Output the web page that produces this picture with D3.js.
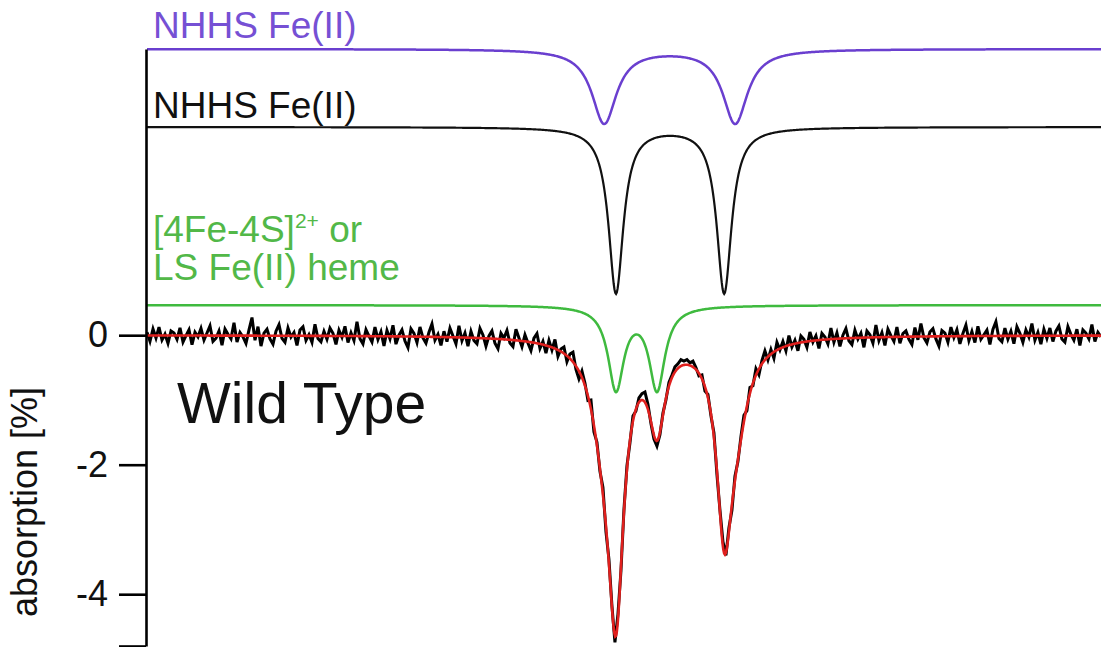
<!DOCTYPE html>
<html>
<head>
<meta charset="utf-8">
<script src="https://cdn.jsdelivr.net/npm/d3@7"></script>
<style>
  body { margin: 0; background: #fff; }
  svg text { font-family: Arial, "Liberation Sans", sans-serif; }
</style>
</head>
<body>
<svg id="chart" width="1101" height="647"></svg>
<script>
// Doppler velocity window of the spectrometer (mm/s) and its channel grid
const velocityRange = [-12.67, 12.9];
const channelStart = -12.67;
const channelStep = 0.0804;

// Quadrupole doublet sites used in the fit
const siteLabels = ["NHHS Fe(II)", "NHHS Fe(II)", "[4Fe-4S]2+ or LS Fe(II) heme"];
const isomerShift = [1.34, 1.35, 0.45];     // mm/s
const quadSplitting = [3.51, 2.90, 1.10];   // mm/s
const lineWidth = [0.80, 0.48, 0.51];       // FWHM, mm/s
const lineDepth = [1.145, 2.56, 1.28];      // % absorption per line
const stackOffset = [4.42, 3.215, 0.464];   // vertical offset of each site trace, %
const siteColors = ["#6a3fcf", "#111111", "#3fba3f"];
const labelColors = ["#7650d4", "#111111", "#52b848"];

// Measured spectrum: deviation of each channel from the fit, in 0.01 % absorption
const residual = [
  5,-9,10,-4,13,-7,2,-12,7,4,-6,12,-10,0,9,-14,5,-2,11,-7,
  4,15,-9,-4,7,-15,10,2,-5,20,-10,5,-2,-12,9,28,-7,14,-16,4,
  10,-5,-13,7,17,-4,-10,12,-2,5,-15,9,14,-7,2,-10,18,-4,-9,7,
  -5,12,4,-13,9,-2,15,-10,5,-7,22,-4,-12,10,0,-9,14,-5,7,-15,
  9,-4,17,-12,2,10,-7,-17,12,5,-9,15,-2,-10,7,20,-5,4,-13,9,
  -7,14,2,-10,18,-5,7,-13,10,-4,-9,15,5,-12,4,12,-7,-15,9,2,
  14,-5,-10,17,4,-9,10,-2,-13,7,15,-7,5,-12,9,-4,14,-10,4,10,
  -9,7,15,-5,-12,10,4,-7,14,-10,5,-4,12,-9,7,2,-10,9,-5,4,
  6,-4,8,-3,7,10,16,8,-3,-6,-8,-4,3,-2,6,4,8,7,10,6,
  8,4,9,3,-4,6,-7,5,-3,7,-6,3,8,-4,6,-9,7,-3,5,10,
  -7,9,-4,10,-9,5,14,-5,7,-10,12,-2,9,-7,15,-4,5,-12,10,4,
  -9,14,-2,7,-13,10,4,-7,17,-5,9,-12,5,15,-4,-10,12,-2,7,-15,
  10,4,-9,19,-5,7,-13,12,2,-7,15,-10,5,9,-4,-12,14,-5,20,-2,
  -10,7,12,-4,-15,9,5,-9,14,-2,10,-12,4,17,-7,7,-10,15,-5,2,
  9,-13,10,22,-4,-9,12,-5,7,-12,14,4,-10,9,-2,19,-7,5,-13,10,
  -4,12,-9,7,15,-5,-10,14,2,-7,10,-15,9,4,-5,17,-9,5,-2
];

const yDomain = [-4.8, 4.42];
const yTickValues = [0, -2, -4, -4.8];
const yTickLabels = ["0", "-2", "-4", ""];

// ---------------------------------------------------------------------------
const svg = d3.select("#chart");
const x = d3.scaleLinear().domain(velocityRange).range([147, 1101]);
const y = d3.scaleLinear().domain(yDomain).range([646, 49]);

// Lorentzian absorption of one doublet site at velocity v (positive = absorbed)
function siteAbsorption(s, v) {
  const half = lineWidth[s] / 2;
  let a = 0;
  for (const sign of [-1, 1]) {
    const c = isomerShift[s] + sign * quadSplitting[s] / 2;
    const u = (v - c) / half;
    a += lineDepth[s] / (1 + u * u);
  }
  return a;
}
function totalFit(v) {
  let a = 0;
  for (let s = 0; s < siteLabels.length; s++) a += siteAbsorption(s, v);
  return -a;
}

const fine = d3.range(0, 1201).map(i => velocityRange[0] + i * (velocityRange[1] - velocityRange[0]) / 1200);
const line = d3.line().x(d => x(d[0])).y(d => y(d[1]));

// site traces, stacked above the spectrum
siteLabels.forEach((name, s) => {
  svg.append("path")
    .attr("d", line(fine.map(v => [v, stackOffset[s] - siteAbsorption(s, v)])))
    .attr("fill", "none")
    .attr("stroke", siteColors[s])
    .attr("stroke-width", s === 1 ? 2.2 : 2.5);
});

// measured channels
const measured = residual.map((r, i) => {
  const v = channelStart + i * channelStep;
  return [v, totalFit(v) + r / 100];
});
svg.append("path")
  .attr("d", line(measured))
  .attr("fill", "none")
  .attr("stroke", "#000")
  .attr("stroke-width", 3)
  .attr("stroke-linejoin", "miter");

// total fit
svg.append("path")
  .attr("d", line(fine.map(v => [v, totalFit(v)])))
  .attr("fill", "none")
  .attr("stroke", "#e0201e")
  .attr("stroke-width", 2.6);

// y axis
const axis = d3.axisLeft(y)
  .tickValues(yTickValues)
  .tickFormat((d, i) => yTickLabels[i])
  .tickSize(27)
  .tickSizeOuter(0)
  .tickPadding(11);
const gAxis = svg.append("g").attr("transform", "translate(146,0)").call(axis);
gAxis.select(".domain").attr("stroke", "#000").attr("stroke-width", 2.6);
gAxis.selectAll(".tick line").attr("stroke", "#000").attr("stroke-width", 2.6);
gAxis.selectAll(".tick text")
  .attr("font-size", 36)
  .attr("fill", "#111")
  .attr("font-family", "Arial, 'Liberation Sans', sans-serif");

svg.append("text")
  .attr("transform", "translate(37,502) rotate(-90)")
  .attr("text-anchor", "middle")
  .attr("font-size", 36)
  .attr("fill", "#111")
  .text("absorption [%]");

// site labels
svg.append("text").attr("x", 153).attr("y", 38)
  .attr("font-size", 37).attr("fill", labelColors[0]).text(siteLabels[0]);
svg.append("text").attr("x", 153).attr("y", 118)
  .attr("font-size", 37).attr("fill", labelColors[1]).text(siteLabels[1]);
const g1 = svg.append("text").attr("x", 153).attr("y", 242)
  .attr("font-size", 37).attr("fill", labelColors[2]);
g1.append("tspan").text("[4Fe-4S]");
g1.append("tspan").attr("font-size", 21).attr("dy", -14).text("2+");
g1.append("tspan").attr("dy", 14).text(" or");
svg.append("text").attr("x", 153).attr("y", 280)
  .attr("font-size", 37).attr("fill", labelColors[2]).text("LS Fe(II) heme");

svg.append("text").attr("x", 177).attr("y", 423)
  .attr("font-size", 57).attr("fill", "#111").text("Wild Type");
</script>
</body>
</html>
